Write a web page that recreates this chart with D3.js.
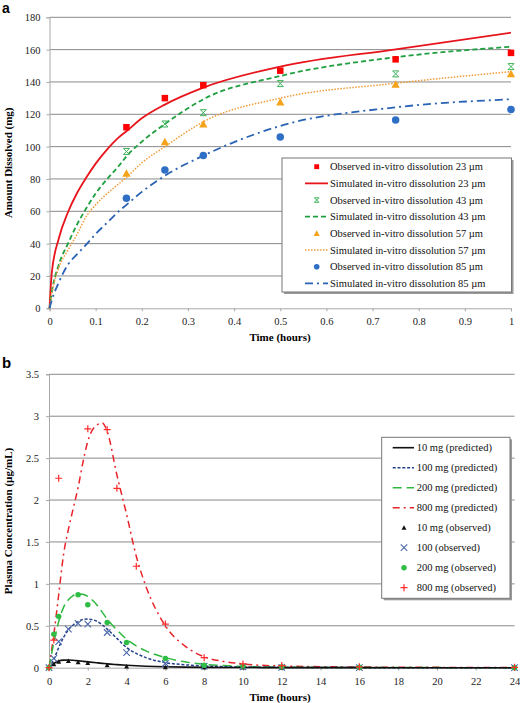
<!DOCTYPE html>
<html><head><meta charset="utf-8">
<script src="https://cdn.jsdelivr.net/npm/d3@7"></script>
<style>
html,body{margin:0;padding:0;background:#fff;}
svg{display:block;font-family:"Liberation Serif","Times New Roman",serif;}
</style></head>
<body>
<svg id="c" width="520" height="703"></svg>
<script>
// ---------- Panel a data ----------
const obsTimeA = [0.1667, 0.25, 0.3333, 0.5, 0.75, 1];
const obs23 = [112, 130, 138, 147, 154, 158];
const obs43 = [97, 114, 121, 139, 145, 149.5];
const obs57 = [83.5, 103, 114, 127.5, 138.5, 145];
const obs85 = [68, 85.5, 94.5, 106, 116.5, 123];
const simTimeA = [0, 0.005, 0.02, 0.04, 0.06, 0.08, 0.1, 0.125, 0.15, 0.1667, 0.2, 0.25, 0.3333, 0.5, 0.75, 1];
const sim23 = [0, 22, 43, 59.4, 71.5, 81, 89.5, 98.3, 105.7, 109.5, 117.5, 126, 136.5, 149.5, 160.2, 170.5];
const sim43 = [0, 10, 27, 40, 52, 62, 71, 80, 88, 94, 103, 114, 129.3, 143.7, 155.3, 161.8];
const sim57 = [0, 9, 25, 36, 46, 57, 64, 71, 77, 81, 90, 100, 115.4, 130, 139.2, 146.4];
const sim85 = [0, 5, 16, 27, 33.5, 39.5, 46, 53, 60, 64, 72, 82, 94.4, 112.8, 124.3, 129.3];
const ticksXA = [0, 0.1, 0.2, 0.3, 0.4, 0.5, 0.6, 0.7, 0.8, 0.9, 1];
const ticksYA = [0, 20, 40, 60, 80, 100, 120, 140, 160, 180];
const legendA = ["Observed in-vitro dissolution 23 µm","Simulated in-vitro dissolution 23 µm",
  "Observed in-vitro dissolution 43 µm","Simulated in-vitro dissolution 43 µm",
  "Observed in-vitro dissolution 57 µm","Simulated in-vitro dissolution 57 µm",
  "Observed in-vitro dissolution 85 µm","Simulated in-vitro dissolution 85 µm"];

// ---------- Panel b data ----------
const simTimeB = [0, 0.25, 0.5, 0.75, 1, 1.25, 1.5, 1.75, 2, 2.5, 2.75, 3, 3.5, 4, 4.5, 5, 6, 7, 8, 9, 10, 12, 16, 20, 24];
const pred10 = [0, 0.05, 0.08, 0.09, 0.092, 0.088, 0.082, 0.076, 0.07, 0.058, 0.052, 0.046, 0.037, 0.029, 0.023, 0.018, 0.011, 0.007, 0.004, 0.003, 0.002, 0.001, 0.0005, 0, 0];
const pred100 = [0, 0.1, 0.24, 0.36, 0.45, 0.51, 0.55, 0.575, 0.58, 0.55, 0.51, 0.46, 0.35, 0.24, 0.17, 0.12, 0.06, 0.035, 0.02, 0.012, 0.008, 0.004, 0.001, 0, 0];
const pred200 = [0, 0.3, 0.55, 0.72, 0.81, 0.86, 0.88, 0.875, 0.85, 0.74, 0.66, 0.58, 0.45, 0.34, 0.26, 0.2, 0.12, 0.07, 0.04, 0.025, 0.015, 0.006, 0.002, 0.001, 0];
const pred800 = [0, 0.4, 0.87, 1.35, 1.65, 1.9, 2.15, 2.45, 2.7, 2.9, 2.92, 2.82, 2.3, 1.83, 1.33, 0.97, 0.5, 0.26, 0.13, 0.075, 0.045, 0.02, 0.008, 0.004, 0.002];
const obsTime10 = [0, 0.25, 0.5, 1, 1.5, 2, 3, 4, 6, 8, 10, 12, 16, 24];
const obs10 = [0, 0.04, 0.07, 0.08, 0.065, 0.055, 0.03, 0.015, 0.005, 0.003, 0.002, 0.001, 0, 0];
const obsTime100 = [0, 0.25, 0.5, 1, 1.5, 2, 3, 4, 6, 8, 10, 12, 16, 24];
const obs100 = [0, 0.11, 0.31, 0.46, 0.53, 0.52, 0.42, 0.18, 0.05, 0.02, 0.01, 0.005, 0.002, 0];
const obsTime200 = [0, 0.25, 0.5, 1.5, 2, 3, 4, 6, 8, 10, 12, 16, 24];
const obs200 = [0, 0.40, 0.61, 0.87, 0.75, 0.54, 0.30, 0.11, 0.03, 0.02, 0.01, 0.005, 0];
const obsTime800 = [0, 0.25, 0.5, 2, 3, 3.5, 4.5, 6, 8, 10, 12, 16, 24];
const obs800 = [0, 0.33, 2.26, 2.85, 2.84, 2.14, 1.21, 0.52, 0.12, 0.045, 0.025, 0.01, 0.005];
const ticksXB = [0, 2, 4, 6, 8, 10, 12, 14, 16, 18, 20, 22, 24];
const ticksYB = [0, 0.5, 1, 1.5, 2, 2.5, 3, 3.5];
const legendB = ["10 mg (predicted)","100 mg (predicted)","200 mg (predicted)","800 mg (predicted)",
  "10 mg (observed)","100 (observed)","200 mg (observed)","800 mg (observed)"];

const svg = d3.select("#c");
const FS = 10.5;
const SERIF = "'Liberation Serif','Times New Roman',serif";
const gridCol = "#8a8a8a";

function symbol(g, type, x, y, color, s) {
  if (type === "square") g.append("rect").attr("x", x - s/2).attr("y", y - s/2).attr("width", s).attr("height", s).attr("fill", color);
  else if (type === "circle") g.append("circle").attr("cx", x).attr("cy", y).attr("r", s/2).attr("fill", color);
  else if (type === "triangle") g.append("path").attr("d", `M${x},${y - s*0.55}L${x + s*0.55},${y + s*0.45}L${x - s*0.55},${y + s*0.45}Z`).attr("fill", color);
  else if (type === "x") g.append("path").attr("d", `M${x - s/2},${y - s/2}L${x + s/2},${y + s/2}M${x - s/2},${y + s/2}L${x + s/2},${y - s/2}`).attr("stroke", color).attr("stroke-width", 1.1).attr("fill", "none");
  else if (type === "star") g.append("path").attr("d", `M${x - s/2},${y - s/2}L${x + s/2},${y + s/2}M${x - s/2},${y + s/2}L${x + s/2},${y - s/2}M${x - s/2},${y - s/2}L${x + s/2},${y - s/2}M${x - s/2},${y + s/2}L${x + s/2},${y + s/2}`).attr("stroke", color).attr("stroke-width", 1).attr("fill", "none");
  else if (type === "plus") g.append("path").attr("d", `M${x - s/2},${y}L${x + s/2},${y}M${x},${y - s/2}L${x},${y + s/2}`).attr("stroke", color).attr("stroke-width", 1.2).attr("fill", "none");
}

// ================= Panel a =================
const xA = d3.scaleLinear().domain([0, 1]).range([49.5, 511]);
const yA = d3.scaleLinear().domain([0, 180]).range([308.3, 17.3]);
const gA = svg.append("g");
gA.selectAll(".gy").data(ticksYA.filter(d => d > 0)).enter().append("line")
  .attr("x1", xA(0)).attr("x2", xA(1)).attr("y1", d => yA(d)).attr("y2", d => yA(d))
  .attr("stroke", gridCol).attr("stroke-width", 1);
const axXA = gA.append("g").attr("transform", `translate(0,${yA(0)})`)
  .call(d3.axisBottom(xA).tickValues(ticksXA).tickSize(3).tickFormat(d => d === 0 ? "0" : d === 1 ? "1" : d3.format(".1f")(d)));
const axYA = gA.append("g").attr("transform", `translate(${xA(0)},0)`)
  .call(d3.axisLeft(yA).tickValues(ticksYA).tickSize(3).tickFormat(d3.format("d")));
[axXA, axYA].forEach(a => {
  a.attr("font-family", SERIF);
  a.select(".domain").attr("stroke", "#a8a8a8");
  a.selectAll(".tick line").attr("stroke", "#a8a8a8");
  a.selectAll("text").attr("font-family", SERIF).attr("font-size", FS).attr("fill", "#222");
});
axXA.selectAll("text").attr("dy", "0").attr("y", 17);
axYA.selectAll("text").attr("x", -9);
gA.append("text").attr("x", 280).attr("y", 340.5).attr("text-anchor", "middle").attr("font-family", SERIF)
  .attr("font-weight", "bold").attr("font-size", 11).text("Time (hours)");
gA.append("text").attr("transform", `translate(12,${(yA(0) + yA(180)) / 2}) rotate(-90)`).attr("text-anchor", "middle")
  .attr("font-family", SERIF).attr("font-weight", "bold").attr("font-size", 11).text("Amount Dissolved (mg)");
svg.append("text").attr("x", 2).attr("y", 13).attr("font-family", "'Liberation Sans',Arial,sans-serif").attr("font-weight", "bold").attr("font-size", 14).text("a");

const seriesA = [
  {sim: sim23, obs: obs23, color: "#ff0000", lcolor: "#e8141c", sym: "square", size: 6.5, dash: null, w: 1.8},
  {sim: sim43, obs: obs43, color: "#3cb35a", lcolor: "#20a040", sym: "star", size: 6, dash: "5,3", w: 1.8},
  {sim: sim57, obs: obs57, color: "#f5a31a", lcolor: "#f09b3a", sym: "triangle", size: 7.5, dash: "1.5,1.5", w: 1.5},
  {sim: sim85, obs: obs85, color: "#2f6fc6", lcolor: "#2a62b4", sym: "circle", size: 7.5, dash: "8,4,2,4", w: 1.8}
];
const lineA = d3.line().x((d, i) => xA(simTimeA[i])).y(d => yA(d)).curve(d3.curveMonotoneX);
seriesA.forEach(s => {
  const p = gA.append("path").datum(s.sim).attr("d", lineA).attr("fill", "none")
    .attr("stroke", s.lcolor).attr("stroke-width", s.w);
  if (s.dash) p.attr("stroke-dasharray", s.dash);
});
seriesA.forEach(s => {
  s.obs.forEach((v, i) => symbol(gA, s.sym, xA(obsTimeA[i]), yA(v), s.color, s.size));
});
const LA = {x: 282, y: 158, w: 229.5, h: 134};
gA.append("rect").attr("x", LA.x + 2).attr("y", LA.y + 2).attr("width", LA.w).attr("height", LA.h).attr("fill", "#9a9a9a");
gA.append("rect").attr("x", LA.x).attr("y", LA.y).attr("width", LA.w).attr("height", LA.h).attr("fill", "#fff").attr("stroke", "#777").attr("stroke-width", 1);
legendA.forEach((t, i) => {
  const yy = 166.7 + i * 16.67;
  const s = seriesA[Math.floor(i / 2)];
  if (i % 2 === 0) symbol(gA, s.sym, 316.7, yy, s.color, s.size * 0.75);
  else {
    const l = gA.append("line").attr("x1", 305).attr("x2", 328).attr("y1", yy).attr("y2", yy).attr("stroke", s.lcolor).attr("stroke-width", s.w);
    if (s.dash) l.attr("stroke-dasharray", s.dash);
  }
  gA.append("text").attr("x", 330).attr("y", yy + 3.7).attr("font-family", SERIF).attr("font-size", FS).attr("fill", "#111").text(t);
});

// ================= Panel b =================
const xB = d3.scaleLinear().domain([0, 24]).range([49, 514.5]);
const yB = d3.scaleLinear().domain([0, 3.5]).range([667.7, 374.3]);
const gB = svg.append("g");
gB.selectAll(".gy").data(ticksYB.filter(d => d > 0)).enter().append("line")
  .attr("x1", xB(0)).attr("x2", xB(24)).attr("y1", d => yB(d)).attr("y2", d => yB(d))
  .attr("stroke", gridCol).attr("stroke-width", 1);
const axXB = gB.append("g").attr("transform", `translate(0,${yB(0)})`)
  .call(d3.axisBottom(xB).tickValues(ticksXB).tickSize(3).tickFormat(d3.format("d")));
const axYB = gB.append("g").attr("transform", `translate(${xB(0)},0)`)
  .call(d3.axisLeft(yB).tickValues(ticksYB).tickSize(3).tickFormat(d => d3.format("")(d)));
[axXB, axYB].forEach(a => {
  a.attr("font-family", SERIF);
  a.select(".domain").attr("stroke", "#a8a8a8");
  a.selectAll(".tick line").attr("stroke", "#a8a8a8");
  a.selectAll("text").attr("font-family", SERIF).attr("font-size", FS).attr("fill", "#222");
});
axXB.selectAll("text").attr("dy", "0").attr("y", 17);
axYB.selectAll("text").attr("x", -10);
gB.append("text").attr("x", 280).attr("y", 700.5).attr("text-anchor", "middle").attr("font-family", SERIF)
  .attr("font-weight", "bold").attr("font-size", 11).text("Time (hours)");
gB.append("text").attr("transform", `translate(12,${(yB(0) + yB(3.5)) / 2}) rotate(-90)`).attr("text-anchor", "middle")
  .attr("font-family", SERIF).attr("font-weight", "bold").attr("font-size", 11).text("Plasma Concentration (µg/mL)");
svg.append("text").attr("x", 2).attr("y", 368).attr("font-family", "'Liberation Sans',Arial,sans-serif").attr("font-weight", "bold").attr("font-size", 15).text("b");

const predB = [
  {v: pred10, color: "#111111", dash: null, w: 1.6},
  {v: pred100, color: "#23408a", dash: "3,1.8", w: 1.5},
  {v: pred200, color: "#2db83d", dash: "9,5", w: 1.5},
  {v: pred800, color: "#e8232a", dash: "7,4,2,4", w: 1.5}
];
const obsB = [
  {t: obsTime10, v: obs10, color: "#111111", sym: "triangle", size: 4.5},
  {t: obsTime100, v: obs100, color: "#4b68aa", sym: "x", size: 6.5},
  {t: obsTime200, v: obs200, color: "#2ebd45", sym: "circle", size: 5.5},
  {t: obsTime800, v: obs800, color: "#ff2a2a", sym: "plus", size: 7}
];
const lineB = d3.line().x((d, i) => xB(simTimeB[i])).y(d => yB(d)).curve(d3.curveMonotoneX);
predB.slice().reverse().forEach(s => {
  const p = gB.append("path").datum(s.v).attr("d", lineB).attr("fill", "none")
    .attr("stroke", s.color).attr("stroke-width", s.w);
  if (s.dash) p.attr("stroke-dasharray", s.dash);
});
obsB.forEach(s => {
  s.v.forEach((v, i) => symbol(gB, s.sym, xB(s.t[i]), yB(v), s.color, s.size));
});
const LB = {x: 381.7, y: 437.3, w: 128.3, h: 161};
gB.append("rect").attr("x", LB.x + 2).attr("y", LB.y + 2).attr("width", LB.w).attr("height", LB.h).attr("fill", "#9a9a9a");
gB.append("rect").attr("x", LB.x).attr("y", LB.y).attr("width", LB.w).attr("height", LB.h).attr("fill", "#fff").attr("stroke", "#777").attr("stroke-width", 1);
legendB.forEach((t, i) => {
  const yy = 447.7 + i * 20;
  if (i < 4) {
    const s = predB[i];
    const l = gB.append("line").attr("x1", 392.7).attr("x2", 414).attr("y1", yy).attr("y2", yy).attr("stroke", s.color).attr("stroke-width", s.w);
    if (s.dash) l.attr("stroke-dasharray", s.dash);
  } else {
    const s = obsB[i - 4];
    symbol(gB, s.sym, 404, yy, s.color, s.size);
  }
  gB.append("text").attr("x", 416.7).attr("y", yy + 3.7).attr("font-family", SERIF).attr("font-size", FS).attr("fill", "#111").text(t);
});
</script>
</body></html>
